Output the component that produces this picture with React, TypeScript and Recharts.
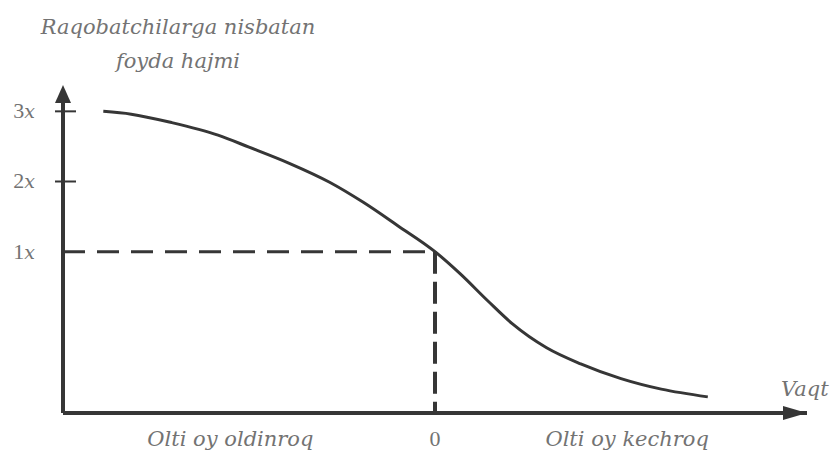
import { LineChart, Line, XAxis, YAxis, ReferenceLine, ReferenceDot } from 'recharts'

// months relative to the moment of entry (0), and profit relative to competitors
const months = [-10.7, -9.8, -8.5, -7, -6, -4.7, -3.4, -2.3, -1.2, 0, 0.8, 1.7, 2.5, 3.6, 4.7, 6, 7.3, 8.8]
const profit = [3.0, 2.96, 2.84, 2.66, 2.49, 2.26, 1.99, 1.7, 1.37, 1, 0.69, 0.3, -0.03, -0.37, -0.6, -0.81, -0.96, -1.07]

const yTicks = [1, 2, 3]
const xTicks = [-6.6, 0, 6.2]
const xTickLabels: Record<string, string> = { '-6.6': 'Olti oy oldinroq', '0': '0', '6.2': 'Olti oy kechroq' }

const X_MIN = -12
const X_MAX = 12
const Y_MIN = -1.3
const Y_MAX = 3.29

const data = months.map((m, i) => ({ m, v: profit[i] }))

const ink = '#363636'
const textGrey = '#737373'
const serif = "'DejaVu Serif', serif"
const upright = "'Liberation Serif', 'DejaVu Serif', serif"

const YTick = (props: any) => {
  const { y, payload } = props
  const axisX = 63
  return (
    <g>
      {payload.value > 1 && <line x1={axisX - 8} x2={axisX + 13} y1={y} y2={y} stroke={ink} strokeWidth={2} />}
      <text x={axisX - 28} y={y} dy={7} textAnchor="end" fill={textGrey} fontFamily={upright} fontSize={22}>
        {payload.value}
        <tspan fontStyle="italic" fontFamily={serif} fontSize={19}>x</tspan>
      </text>
    </g>
  )
}

const XTick = (props: any) => {
  const { x, payload } = props
  const label = xTickLabels[String(payload.value)]
  const isZero = payload.value === 0
  return (
    <text
      x={x}
      y={446}
      textAnchor="middle"
      fill={textGrey}
      fontFamily={isZero ? upright : serif}
      fontStyle={isZero ? 'normal' : 'italic'}
      fontSize={isZero ? 22 : 21}
    >
      {label}
    </text>
  )
}

const UpArrow = (props: any) => {
  const { cx, cy } = props
  return <polygon points={`${cx},${cy - 6} ${cx - 8},${cy + 12} ${cx + 8},${cy + 12}`} fill={ink} />
}

const RightArrow = (props: any) => {
  const { cx, cy } = props
  return <polygon points={`${cx},${cy} ${cx - 24},${cy - 7} ${cx - 24},${cy + 7}`} fill={ink} />
}

export default function App() {
  return (
    <div style={{ position: 'absolute', left: 0, top: 0, width: 830, height: 454, background: '#fff' }}>
      <div
        style={{
          position: 'absolute',
          left: 0,
          top: 10,
          width: 356,
          textAlign: 'center',
          fontFamily: serif,
          fontStyle: 'italic',
          fontSize: 21,
          lineHeight: '34px',
          color: textGrey,
        }}
      >
        Raqobatchilarga nisbatan
        <br />
        foyda hajmi
      </div>
      <div
        style={{
          position: 'absolute',
          left: 781,
          top: 377,
          fontFamily: serif,
          fontStyle: 'italic',
          fontSize: 21,
          color: textGrey,
        }}
      >
        Vaqt
      </div>
      <LineChart width={830} height={454} data={data} margin={{ top: 91, right: 23, bottom: 0, left: 0 }}>
        <XAxis
          dataKey="m"
          type="number"
          domain={[X_MIN, X_MAX]}
          ticks={xTicks}
          tick={<XTick />}
          tickLine={false}
          axisLine={{ stroke: ink, strokeWidth: 4 }}
          height={41}
          allowDataOverflow
        />
        <YAxis
          type="number"
          domain={[Y_MIN, Y_MAX]}
          ticks={yTicks}
          tick={<YTick />}
          tickLine={false}
          axisLine={{ stroke: ink, strokeWidth: 4 }}
          width={63}
          allowDataOverflow
        />
        <ReferenceLine
          segment={[{ x: X_MIN, y: 1 }, { x: 0, y: 1 }]}
          stroke={ink}
          strokeWidth={3}
          strokeDasharray="22 12"
        />
        <ReferenceLine
          segment={[{ x: 0, y: 1 }, { x: 0, y: Y_MIN }]}
          stroke={ink}
          strokeWidth={4}
          strokeDasharray="22 8"
        />
        <Line
          dataKey="v"
          type="monotone"
          stroke={ink}
          strokeWidth={3}
          dot={false}
          isAnimationActive={false}
        />
        <ReferenceDot x={X_MIN} y={Y_MAX} ifOverflow="visible" shape={<UpArrow />} />
        <ReferenceDot x={X_MAX} y={Y_MIN} ifOverflow="visible" shape={<RightArrow />} />
      </LineChart>
    </div>
  )
}
